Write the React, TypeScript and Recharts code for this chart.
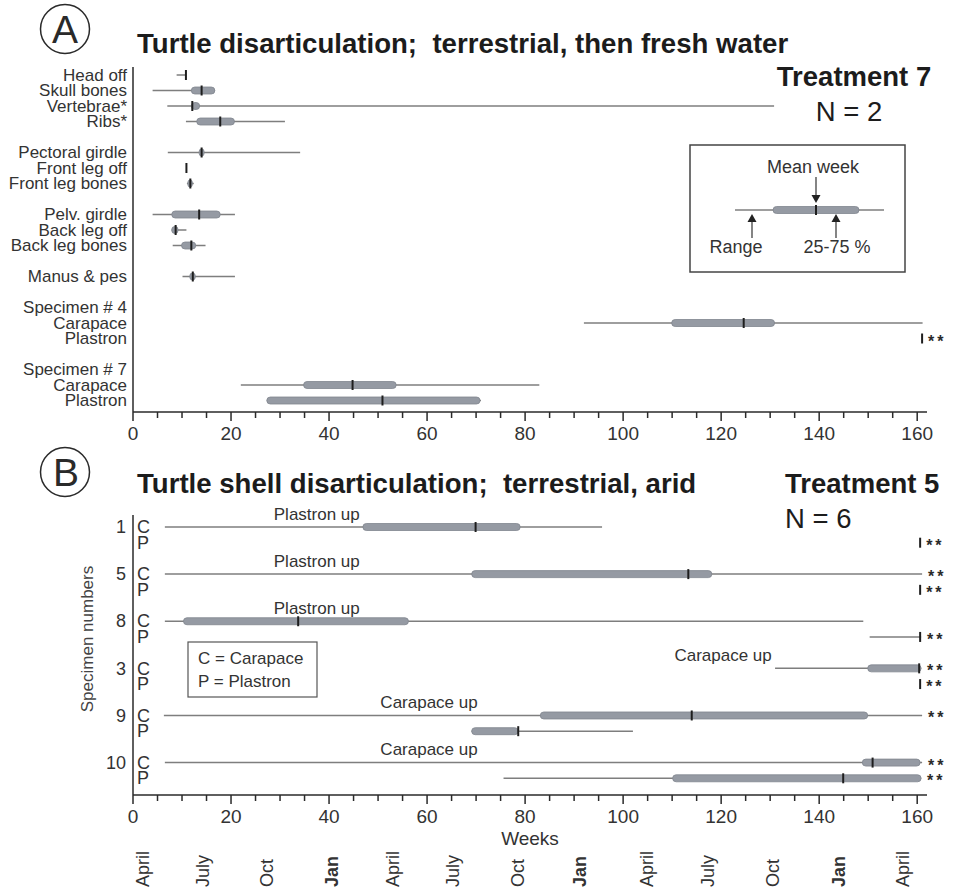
import React from 'react';
import { ComposedChart, Bar, XAxis, YAxis, ReferenceDot } from 'recharts';

const FONT = '"Liberation Sans", Arial, Helvetica, sans-serif';

// ---- Panel A: treatment 7, terrestrial then fresh water (weeks) ----
const boneLabels = [
  'Head off', 'Skull bones', 'Vertebrae*', 'Ribs*', '',
  'Pectoral girdle', 'Front leg off', 'Front leg bones', '',
  'Pelv. girdle', 'Back leg off', 'Back leg bones', '',
  'Manus & pes', '',
  'Specimen # 4', 'Carapace', 'Plastron', '',
  'Specimen # 7', 'Carapace', 'Plastron',
];
const boneMin = [8.9, 4.0, 7.0, 10.8, null, 7.1, 10.9, 11.0, null, 4.0, 7.9, 8.1, null, 10.1, null, null, 92.0, 161.0, null, null, 22.0, 27.3];
const boneQ1 = [null, 11.9, 11.9, 13.0, null, 13.5, null, 11.2, null, 7.9, 7.9, 9.9, null, 11.6, null, null, 109.9, null, null, null, 34.8, 27.3];
const boneMean = [10.8, 14.0, 12.1, 17.8, null, 14.0, 10.9, 11.7, null, 13.5, 8.7, 11.9, null, 12.2, null, null, 124.6, 161.0, null, null, 44.8, 50.9];
const boneQ3 = [null, 16.7, 13.6, 20.7, null, 14.5, null, 12.1, null, 17.8, 9.2, 12.8, null, 12.7, null, null, 130.9, null, null, null, 53.7, 70.8];
const boneMax = [10.8, 16.7, 130.8, 31.0, null, 34.1, 10.9, 12.4, null, 20.8, 10.9, 14.8, null, 20.8, null, null, 161.1, 161.0, null, null, 82.9, 71.0];
const boneStar = [0, 0, 0, 0, 0, 0, 0, 0, 0, 0, 0, 0, 0, 0, 0, 0, 0, 1, 0, 0, 0, 0];

// ---- Panel B: treatment 5, terrestrial arid (weeks) ----
const specimens = ['1', '5', '8', '3', '9', '10'];
const carMin = [6.5, 6.5, 6.5, 131.0, 6.3, 6.5];
const carQ1 = [46.9, 69.1, 10.3, 149.9, 83.1, 148.8];
const carMean = [69.9, 113.3, 33.7, 160.4, 114.0, 150.9];
const carQ3 = [79.0, 118.1, 56.2, 160.8, 149.9, 160.6];
const carMax = [95.7, 161.0, 149.0, 160.8, 161.0, 161.0];
const carStar = [0, 1, 0, 1, 1, 1];
const plaMin = [160.6, 160.6, 150.3, 160.6, 69.1, 75.6];
const plaQ1 = [null, null, null, null, 69.1, 110.1];
const plaMean = [160.6, 160.6, 160.6, 160.6, 78.6, 144.9];
const plaQ3 = [null, null, null, null, 78.6, 160.8];
const plaMax = [160.6, 160.6, 160.8, 160.6, 102.0, 160.8];
const plaStar = [1, 1, 1, 1, 0, 1];

const orientNotes = [
  { row: '1C', week: 37.5, text: 'Plastron up' },
  { row: '5C', week: 37.5, text: 'Plastron up' },
  { row: '8C', week: 37.5, text: 'Plastron up' },
  { row: '3C', week: 120.4, text: 'Carapace up' },
  { row: '9C', week: 60.4, text: 'Carapace up' },
  { row: '10C', week: 60.4, text: 'Carapace up' },
];

const weekTicks = [0, 5, 10, 15, 20, 25, 30, 35, 40, 45, 50, 55, 60, 65, 70, 75, 80, 85, 90, 95, 100, 105, 110, 115, 120, 125, 130, 135, 140, 145, 150, 155, 160];
const weekLabels = [0, 20, 40, 60, 80, 100, 120, 140, 160];
const monthWeeks = [2, 14.3, 27.3, 40.6, 53, 65.3, 78.4, 91.2, 104.9, 117.3, 130.6, 143.9, 157.1];
const monthLabels = ['April', 'July', 'Oct', 'Jan', 'April', 'July', 'Oct', 'Jan', 'April', 'July', 'Oct', 'Jan', 'April'];

const toRow = (id, min, q1, mean, q3, max, star, extra = {}) => ({
  id, min, q1, mean, q3, max, star: !!star,
  range: min == null ? null : [min, max],
  box: q1 == null ? null : [q1, q3],
  meanPt: mean == null ? null : [mean, mean],
  ...extra,
});

const rowsA = boneLabels.map((label, i) =>
  toRow(`a${i}`, boneMin[i], boneQ1[i], boneMean[i], boneQ3[i], boneMax[i], boneStar[i], { label }));

const rowsB = specimens.flatMap((s, i) => {
  const r = [
    toRow(`${s}C`, carMin[i], carQ1[i], carMean[i], carQ3[i], carMax[i], carStar[i], { num: s, part: 'C' }),
    toRow(`${s}P`, plaMin[i], plaQ1[i], plaMean[i], plaQ3[i], plaMax[i], plaStar[i], { num: '', part: 'P' }),
  ];
  if (i < specimens.length - 1) r.push(toRow(`gap${i}`, null, null, null, null, null, 0, { num: '', part: '' }));
  return r;
});

const labelA = Object.fromEntries(rowsA.map((r) => [r.id, r.label]));
const rowB = Object.fromEntries(rowsB.map((r) => [r.id, r]));

const INK = '#2a2a2a';
const RANGE = '#7e7e7e';
const BOX = '#959aa3';

const RangeShape = (props: any) => {
  const { x, y, width, height, payload } = props;
  if (!payload || payload.min == null) return <g />;
  const cy = y + height / 2;
  return (
    <g>
      {width > 0 && <line x1={x} x2={x + width} y1={cy} y2={cy} stroke={RANGE} strokeWidth={1.5} />}
      {payload.star && (
        <text x={x + width + 6} y={cy} dy="0.5em" fontSize={16} fontWeight="bold" letterSpacing={3} fill={INK} fontFamily={FONT}>
          **
        </text>
      )}
    </g>
  );
};

const BoxShape = (props: any) => {
  const { x, y, width, height, payload } = props;
  if (!payload || payload.q1 == null) return <g />;
  const cy = y + height / 2;
  return <rect x={x} y={cy - 3.5} width={Math.max(width, 1)} height={7} rx={Math.min(3.5, width / 2)} fill={BOX} stroke="#80858e" strokeWidth={0.8} />;
};

const MeanShape = (props: any) => {
  const { x, y, height, payload } = props;
  if (!payload || payload.mean == null) return <g />;
  const cy = y + height / 2;
  return <line x1={x} x2={x} y1={cy - 5} y2={cy + 5} stroke="#1e1e1e" strokeWidth={2} />;
};

const WeekTick = (props: any) => {
  const { x, y, payload } = props;
  const v = payload.value;
  const major = weekLabels.includes(v);
  return (
    <g>
      <line x1={x} x2={x} y1={y} y2={y + (major ? 9 : 6)} stroke={INK} strokeWidth={1.5} />
      {major && (
        <text x={x} y={y + 28} textAnchor="middle" fontSize={19} fill="#333" fontFamily={FONT}>
          {v}
        </text>
      )}
    </g>
  );
};

const MonthTick = (props: any) => {
  const { x, y, payload } = props;
  const label = monthLabels[monthWeeks.indexOf(payload.value)];
  return (
    <text
      transform={`translate(${x},${y + 42}) rotate(-90)`}
      dy="0.35em"
      textAnchor="start"
      fontSize={18}
      fontWeight={label === 'Jan' ? 'bold' : 'normal'}
      fill="#333"
      fontFamily={FONT}
    >
      {label}
    </text>
  );
};

const BoneTick = (props: any) => {
  const { x, y, payload } = props;
  return (
    <text x={x} y={y} dy="0.35em" textAnchor="end" fontSize={17} fill="#333" fontFamily={FONT}>
      {labelA[payload.value]}
    </text>
  );
};

const SpecimenTick = (props: any) => {
  const { x, y, payload } = props;
  const r = rowB[payload.value];
  if (!r) return <g />;
  return (
    <g fontFamily={FONT} fill="#333">
      {r.num && (
        <text x={x - 1} y={y} dy="0.35em" textAnchor="end" fontSize={18}>
          {r.num}
        </text>
      )}
      {r.part && (
        <text x={x + 10} y={y} dy="0.35em" textAnchor="start" fontSize={18}>
          {r.part}
        </text>
      )}
    </g>
  );
};

const series = () => [
  <Bar key="r" dataKey="range" barSize={12} shape={RangeShape} isAnimationActive={false} />,
  <Bar key="b" dataKey="box" barSize={12} shape={BoxShape} isAnimationActive={false} />,
  <Bar key="m" dataKey="meanPt" barSize={12} shape={MeanShape} isAnimationActive={false} />,
];

const axisStroke = { stroke: INK, strokeWidth: 1.5 };

const Overlay = () => (
  <svg width={954} height={892} style={{ position: 'absolute', left: 0, top: 0, pointerEvents: 'none' }} fontFamily={FONT}>
    {/* panel letters */}
    <circle cx={65} cy={29} r={24.5} fill="none" stroke={INK} strokeWidth={1.5} />
    <text x={65} y={43} textAnchor="middle" fontSize={39} fill={INK}>A</text>
    <circle cx={65} cy={472} r={24.5} fill="none" stroke={INK} strokeWidth={1.5} />
    <text x={66} y={486} textAnchor="middle" fontSize={39} fill={INK}>B</text>

    {/* titles */}
    <text x={137} y={53} fontSize={27.6} fontWeight="bold" fill="#1c1c1c" style={{ whiteSpace: 'pre' }}>
      {'Turtle disarticulation;  terrestrial, then fresh water'}
    </text>
    <text x={854} y={86} textAnchor="middle" fontSize={27.5} fontWeight="bold" fill="#1c1c1c">Treatment 7</text>
    <text x={849} y={121} textAnchor="middle" fontSize={27.5} fill="#1c1c1c">N = 2</text>

    <text x={137} y={493} fontSize={27.6} fontWeight="bold" fill="#1c1c1c" style={{ whiteSpace: 'pre' }}>
      {'Turtle shell disarticulation;  terrestrial, arid'}
    </text>
    <text x={785} y={493} fontSize={27.5} fontWeight="bold" fill="#1c1c1c">Treatment 5</text>
    <text x={785} y={528} fontSize={27.5} fill="#1c1c1c">N = 6</text>

    {/* key for panel A */}
    <rect x={690} y={145} width={215} height={127} fill="none" stroke="#444" strokeWidth={1.5} />
    <text x={813} y={173} textAnchor="middle" fontSize={18} fill="#333">Mean week</text>
    <line x1={816} x2={816} y1={177} y2={196} stroke="#333" strokeWidth={1.2} />
    <polygon points="811.5,195 820.5,195 816,203" fill="#222" />
    <line x1={735} x2={884} y1={210} y2={210} stroke={RANGE} strokeWidth={1.5} />
    <rect x={773} y={206.5} width={86} height={7} rx={3.5} fill={BOX} stroke="#80858e" strokeWidth={0.8} />
    <line x1={816} x2={816} y1={205} y2={215} stroke="#1e1e1e" strokeWidth={2} />
    <line x1={752} x2={752} y1={220} y2={238} stroke="#333" strokeWidth={1.2} />
    <polygon points="747.5,222 756.5,222 752,214" fill="#222" />
    <line x1={836} x2={836} y1={220} y2={238} stroke="#333" strokeWidth={1.2} />
    <polygon points="831.5,222 840.5,222 836,214" fill="#222" />
    <text x={736} y={253} textAnchor="middle" fontSize={18} fill="#333">Range</text>
    <text x={837} y={253} textAnchor="middle" fontSize={18} fill="#333">25-75 %</text>

    {/* key for panel B */}
    <rect x={188} y={642} width={129} height={55} fill="none" stroke="#555" strokeWidth={1.2} />
    <text x={198} y={664} fontSize={17} fill="#333">C = Carapace</text>
    <text x={198} y={687} fontSize={17} fill="#333">P = Plastron</text>

    <text transform="translate(87,639) rotate(-90)" dy="0.35em" textAnchor="middle" fontSize={17} fill="#444">
      Specimen numbers
    </text>
  </svg>
);

export default function App() {
  return (
    <div style={{ position: 'absolute', left: 0, top: 0, width: 954, height: 892, background: '#fff', fontFamily: FONT }}>
      <div style={{ position: 'absolute', left: 0, top: 0 }}>
        <ComposedChart width={954} height={445} data={rowsA} layout="vertical" barGap={-12} margin={{ top: 67, right: 27, bottom: 0, left: 0 }}>
          <XAxis
            type="number"
            domain={[0, 162]}
            ticks={weekTicks}
            interval={0}
            height={33}
            tickSize={0}
            tickMargin={0}
            tickLine={false}
            axisLine={axisStroke}
            tick={<WeekTick />}
          />
          <YAxis
            type="category"
            dataKey="id"
            width={133}
            interval={0}
            tickLine={false}
            tickSize={0}
            tickMargin={6}
            axisLine={axisStroke}
            padding={{ top: 0, bottom: 4 }}
            tick={<BoneTick />}
          />
          {series()}
        </ComposedChart>
      </div>
      <div style={{ position: 'absolute', left: 0, top: 440 }}>
        <ComposedChart width={954} height={452} data={rowsB} layout="vertical" barGap={-12} margin={{ top: 75, right: 27, bottom: 0, left: 0 }}>
          <XAxis
            type="number"
            domain={[0, 162]}
            ticks={weekTicks}
            interval={0}
            height={50}
            tickSize={0}
            tickMargin={0}
            tickLine={false}
            axisLine={axisStroke}
            tick={<WeekTick />}
            label={{ value: 'Weeks', position: 'insideBottom', offset: 0, fontSize: 19, fill: '#333', fontFamily: FONT }}
          />
          <XAxis
            xAxisId="month"
            type="number"
            domain={[0, 162]}
            allowDataOverflow
            ticks={monthWeeks}
            interval={0}
            height={47}
            tickSize={0}
            tickMargin={0}
            tickLine={false}
            axisLine={false}
            tick={<MonthTick />}
          />
          <YAxis
            type="category"
            dataKey="id"
            width={133}
            interval={0}
            tickLine={false}
            tickSize={0}
            tickMargin={6}
            axisLine={axisStroke}
            padding={{ top: 4, bottom: 9 }}
            tick={<SpecimenTick />}
          />
          {series()}
          {orientNotes.map((n) => (
            <ReferenceDot
              key={n.row}
              x={n.week}
              y={n.row}
              r={1}
              fill="none"
              stroke="none"
              ifOverflow="visible"
              label={{ value: n.text, position: 'top', offset: 6, fontSize: 17, fill: '#333', fontFamily: FONT }}
            />
          ))}
        </ComposedChart>
      </div>
      <Overlay />
    </div>
  );
}
